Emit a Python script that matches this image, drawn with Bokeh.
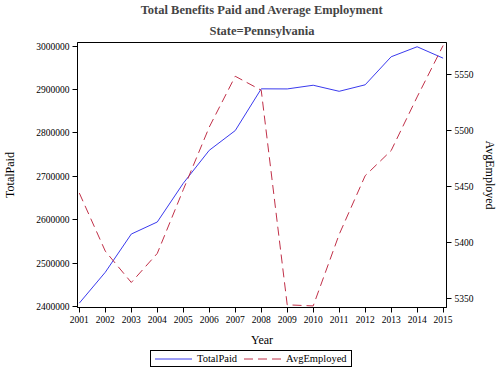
from bokeh.plotting import figure
from bokeh.models import Range1d, LinearAxis, FixedTicker, Title, Div
from bokeh.layouts import column
from bokeh.embed import file_html
from bokeh.resources import INLINE

years = [2001, 2002, 2003, 2004, 2005, 2006, 2007, 2008, 2009, 2010, 2011, 2012, 2013, 2014, 2015]
total_paid = [2407800, 2479000, 2567000, 2594800, 2684000, 2760000, 2805500, 2901700,
              2901500, 2910000, 2896000, 2911000, 2975600, 2998700, 2972400]
avg_employed = [5444, 5392, 5364, 5390, 5447, 5503, 5548.5, 5536,
                5344, 5343, 5407, 5459.5, 5482, 5530, 5576]
left_ticks = [2400000, 2500000, 2600000, 2700000, 2800000, 2900000, 3000000]
right_ticks = [5350, 5400, 5450, 5500, 5550]
series_names = ["TotalPaid", "AvgEmployed"]

FONT = "Liberation Serif"
BLUE = "#3a3aee"
RED = "#c03048"
DASH = "9 5"

p = figure(frame_width=369, frame_height=265, output_backend="svg", toolbar_location=None,
           x_range=Range1d(2000.93, 2015.13), y_range=Range1d(2397700, 3008500),
           min_border_left=0, min_border_right=0, min_border_top=0, min_border_bottom=0)
p.extra_y_ranges = {"emp": Range1d(5341.6, 5578.7)}

p.add_layout(Title(text="State=Pennsylvania", align="center", text_font=FONT,
                   text_font_size="12.5px", text_font_style="bold", standoff=10, offset=0), "above")
p.add_layout(Title(text="Total Benefits Paid and Average Employment", align="center", text_font=FONT,
                   text_font_size="12.5px", text_font_style="bold", standoff=0), "above")

p.xgrid.visible = False
p.ygrid.visible = False
p.outline_line_color = "black"
p.outline_line_width = 1
p.background_fill_color = "white"
p.border_fill_color = "white"

r1 = p.line(years, total_paid, line_color=BLUE, line_width=1)
r2 = p.line(years, avg_employed, line_color=RED, line_width=1, line_dash=DASH, y_range_name="emp")

ax_r = LinearAxis(y_range_name="emp")
p.add_layout(ax_r, "right")

p.xaxis.ticker = FixedTicker(ticks=years)
p.xaxis.axis_label = "Year"
p.yaxis[0].ticker = FixedTicker(ticks=left_ticks)
p.yaxis[0].axis_label = series_names[0]
ax_r.ticker = FixedTicker(ticks=right_ticks)
ax_r.axis_label = series_names[1]
p.yaxis[0].formatter.use_scientific = False
ax_r.formatter.use_scientific = False

for ax in [p.xaxis[0], p.yaxis[0], ax_r]:
    ax.axis_line_color = "black"
    ax.axis_line_width = 1
    ax.major_tick_line_color = "black"
    ax.major_tick_out = 5
    ax.major_tick_in = 0
    ax.minor_tick_line_color = None
    ax.major_label_standoff = 3
    ax.major_label_text_font = FONT
    ax.major_label_text_font_size = "9.5px"
    ax.major_label_text_color = "black"
    ax.axis_label_text_font = FONT
    ax.axis_label_text_font_size = "12px"
    ax.axis_label_text_font_style = "normal"
    ax.axis_label_text_color = "black"
p.xaxis.axis_label_standoff = 7
p.yaxis[0].axis_label_standoff = 16
ax_r.axis_label_standoff = 6

# legend strip below the chart (HTML, real text)
def swatch(color, dash):
    d = f' stroke-dasharray="{dash}"' if dash else ""
    return (f'<svg width="37" height="10" style="vertical-align:middle">'
            f'<line x1="0" y1="5" x2="37" y2="5" stroke="{color}" stroke-width="1"{d}/></svg>')

legend_html = (
    '<div style="margin-left:150px;display:inline-block;border:1px solid #000;'
    'padding:0px 4px;font-family:\'Liberation Serif\';font-size:10.5px;line-height:14px;'
    'white-space:nowrap;color:#000;background:#fff;">'
    + swatch(BLUE, None)
    + f'<span style="margin-left:5px;margin-right:7px;vertical-align:middle">{series_names[0]}</span>'
    + swatch(RED, DASH.replace(" ", ","))
    + f'<span style="margin-left:5px;vertical-align:middle">{series_names[1]}</span>'
    + '</div>'
)
legend_div = Div(text=legend_html, width=484, height=17, margin=(0, 0, 0, 0))

layout = column(p, legend_div, spacing=0)
open("out.html", "w").write(file_html(layout, INLINE))
